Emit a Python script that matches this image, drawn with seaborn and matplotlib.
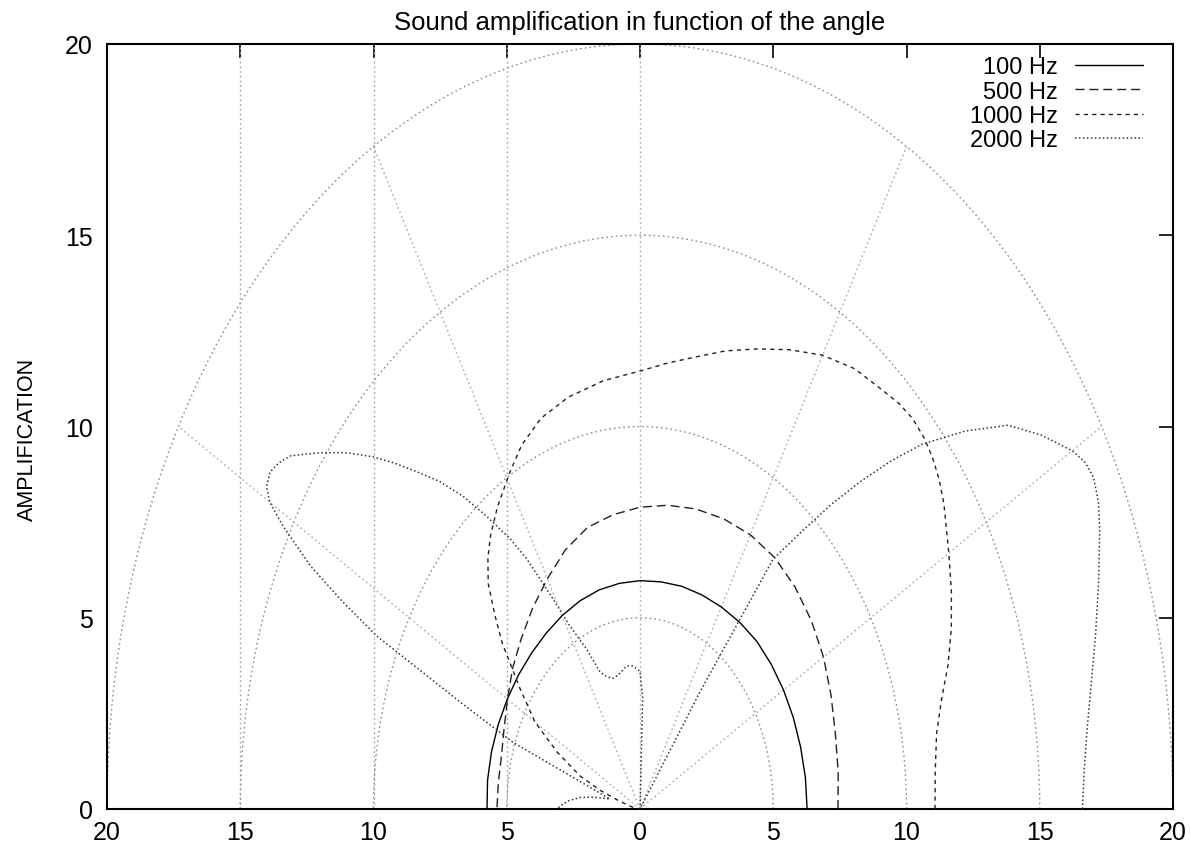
import numpy as np
from matplotlib import pyplot as plt
from matplotlib.lines import Line2D
import seaborn as sns
import pandas as pd

# angle (deg) and amplification, one set per frequency
ang_100 = [0, 7.5, 15, 22.5, 30, 37.5, 45, 52.5, 60, 67.5, 75, 82.5, 90, 97.5, 105, 112.5,
           120, 127.5, 135, 142.5, 150, 157.5, 165, 172.5, 180]
amp_100 = [6.27, 6.26, 6.24, 6.23, 6.22, 6.21, 6.2, 6.15, 6.1, 6.06, 6.03, 5.99, 5.97, 5.95,
           5.93, 5.89, 5.84, 5.79, 5.76, 5.75, 5.75, 5.76, 5.77, 5.77, 5.74]

ang_500 = [0, 7.5, 15, 22.5, 30, 37.5, 45, 52.5, 60, 67.5, 75, 82.5, 90, 97.5, 105, 112.5,
           120, 127.5, 135, 142.5, 150, 157.5, 165, 172.5, 180]
amp_500 = [7.43, 7.5, 7.59, 7.76, 7.95, 8.1, 8.22, 8.29, 8.28, 8.21, 8.12, 8.01, 7.89, 7.76,
           7.62, 7.33, 6.95, 6.62, 6.3, 6.03, 5.74, 5.52, 5.38, 5.36, 5.37]

ang_1000 = [0, 5, 10, 14, 18, 22, 26, 30, 35, 37.5, 40, 42.5, 45, 47.5, 50, 55, 60, 65, 70,
            75, 80, 85, 90, 97, 104, 110, 115, 119, 124, 128, 131, 134, 137, 140, 145, 150,
            154.4, 159, 162, 165, 170, 180]
amp_1000 = [11.07, 11.12, 11.3, 11.65, 12.15, 12.6, 13.0, 13.38, 13.92, 14.15, 14.32, 14.42,
            14.45, 14.38, 14.25, 14.05, 13.7, 13.25, 12.8, 12.4, 12.0, 11.7, 11.45, 11.28,
            11.1, 10.87, 10.5, 10.07, 9.55, 9.1, 8.7, 8.2, 7.45, 6.75, 5.5, 4.55, 3.45, 2.41,
            1.55, 0.8, 0.3, 0.1]

ang_2000 = [0, 3.5, 7, 11, 15, 19, 23, 25, 27, 28.5, 30, 33, 36, 39, 42, 44, 46, 48, 50,
            52.6, 53.7, 54.5, 87, 88, 90, 94, 97.6, 103, 106.3, 109.5, 112.7, 115.6, 118.8,
            120.7, 123, 124.6, 127, 129.1, 131.3, 133.5, 135.5, 137.4, 139.7, 141.9, 143.5,
            144.9, 146.3, 147.6, 149, 150, 151.1, 152.8, 154.1, 155.4, 157.5, 159.9, 163.5,
            167, 170, 172.4, 175.5, 178.5, 180]
amp_2000 = [16.6, 16.7, 16.9, 17.25, 17.7, 18.2, 18.74, 18.98, 19.1, 19.0, 18.73, 17.95,
            17.07, 15.7, 14.26, 13.1, 11.9, 10.7, 9.5, 8.23, 3.8, 0.0, 0.0, 2.9, 3.6, 3.75,
            3.77, 3.6, 3.56, 3.66, 3.88, 4.63, 5.46, 6.38, 7.79, 8.58, 9.6, 10.54, 11.4, 12.15,
            12.9, 13.6, 14.4, 15.1, 15.6, 16.05, 16.3, 16.44, 16.35, 16.04, 15.3, 13.9, 12.4,
            10.85, 7.3, 5.08, 1.84, 1.16, 1.79, 2.27, 2.7, 3.0, 3.1]

series = [('100 Hz', ang_100, amp_100, '#000000', '-', 1.0),
          ('500 Hz', ang_500, amp_500, '#222222', (0, (6.5, 3.5)), 1.0),
          ('1000 Hz', ang_1000, amp_1000, '#222222', (0, (3, 3)), 1.0),
          ('2000 Hz', ang_2000, amp_2000, '#333333', (0, (1, 1.6)), 1.1)]

grid_r = [5, 10, 15, 20]
grid_ang = [30, 60, 90, 120, 150]
grid_vx = [-15, -10, -5]
xticks = [-20, -15, -10, -5, 0, 5, 10, 15, 20]
yticks = [0, 5, 10, 15, 20]

sns.set_theme(style='white')
plt.rcParams['font.family'] = ['Liberation Sans', 'DejaVu Sans']
plt.rcParams['text.color'] = 'black'
plt.rcParams['axes.labelcolor'] = 'black'

fig = plt.figure(figsize=(11.91, 8.45), dpi=100)
ax = fig.add_axes([107 / 1191, 35 / 845, 1066 / 1191, 765 / 845])

# polar grid
t = np.linspace(0, np.pi, 400)
for r in grid_r:
    ax.plot(r * np.cos(t), r * np.sin(t), color='#8c8c8c', lw=1.0, ls=(0, (1.2, 2.2)), zorder=1)
for a in grid_ang:
    ax.plot([0, 20 * np.cos(np.radians(a))], [0, 20 * np.sin(np.radians(a))],
            color='#a8a8a8', lw=1.0, ls=(0, (1.2, 2.2)), zorder=1)
for vx in grid_vx:
    ax.plot([vx, vx], [0, 20], color='#a0a0a0', lw=1.0, ls=(0, (1.2, 2.2)), zorder=1)

handles = []
for name, ang, amp, col, ls, lw in series:
    th = np.radians(np.array(ang))
    df = pd.DataFrame({'x': np.array(amp) * np.cos(th), 'y': np.array(amp) * np.sin(th)})
    sns.lineplot(data=df, x='x', y='y', sort=False, estimator=None, ax=ax,
                 color=col, lw=lw, linestyle=ls, zorder=3)
    handles.append(Line2D([], [], color=col, lw=lw, linestyle=ls, label=name))

ax.set_xlim(-20, 20)
ax.set_ylim(0, 20)
ax.set_xticks(xticks)
ax.set_xticklabels([str(abs(v)) for v in xticks])
ax.set_yticks(yticks)
ax.set_xlabel('')
ax.set_ylabel('AMPLIFICATION', fontsize=15.5)
ax.yaxis.set_label_coords(-0.065, 0.484)
ax.set_title('Sound amplification in function of the angle', fontsize=18.5, pad=11,
             color='black')
ax.tick_params(axis='both', which='major', direction='in', length=10, width=1.2,
               top=True, right=True, labelsize=18, colors='black')
ax.tick_params(axis='x', pad=8)
ax.tick_params(axis='y', pad=10)
for s in ax.spines.values():
    s.set_color('black')
    s.set_linewidth(1.5)

leg = ax.legend(handles=handles, loc='upper right', bbox_to_anchor=(0.972, 0.984),
                frameon=False, markerfirst=False, handlelength=2.9, fontsize=17,
                borderpad=0, borderaxespad=0, labelspacing=0.1, handletextpad=0.7)

plt.savefig('out.png', format='png', dpi=100)
